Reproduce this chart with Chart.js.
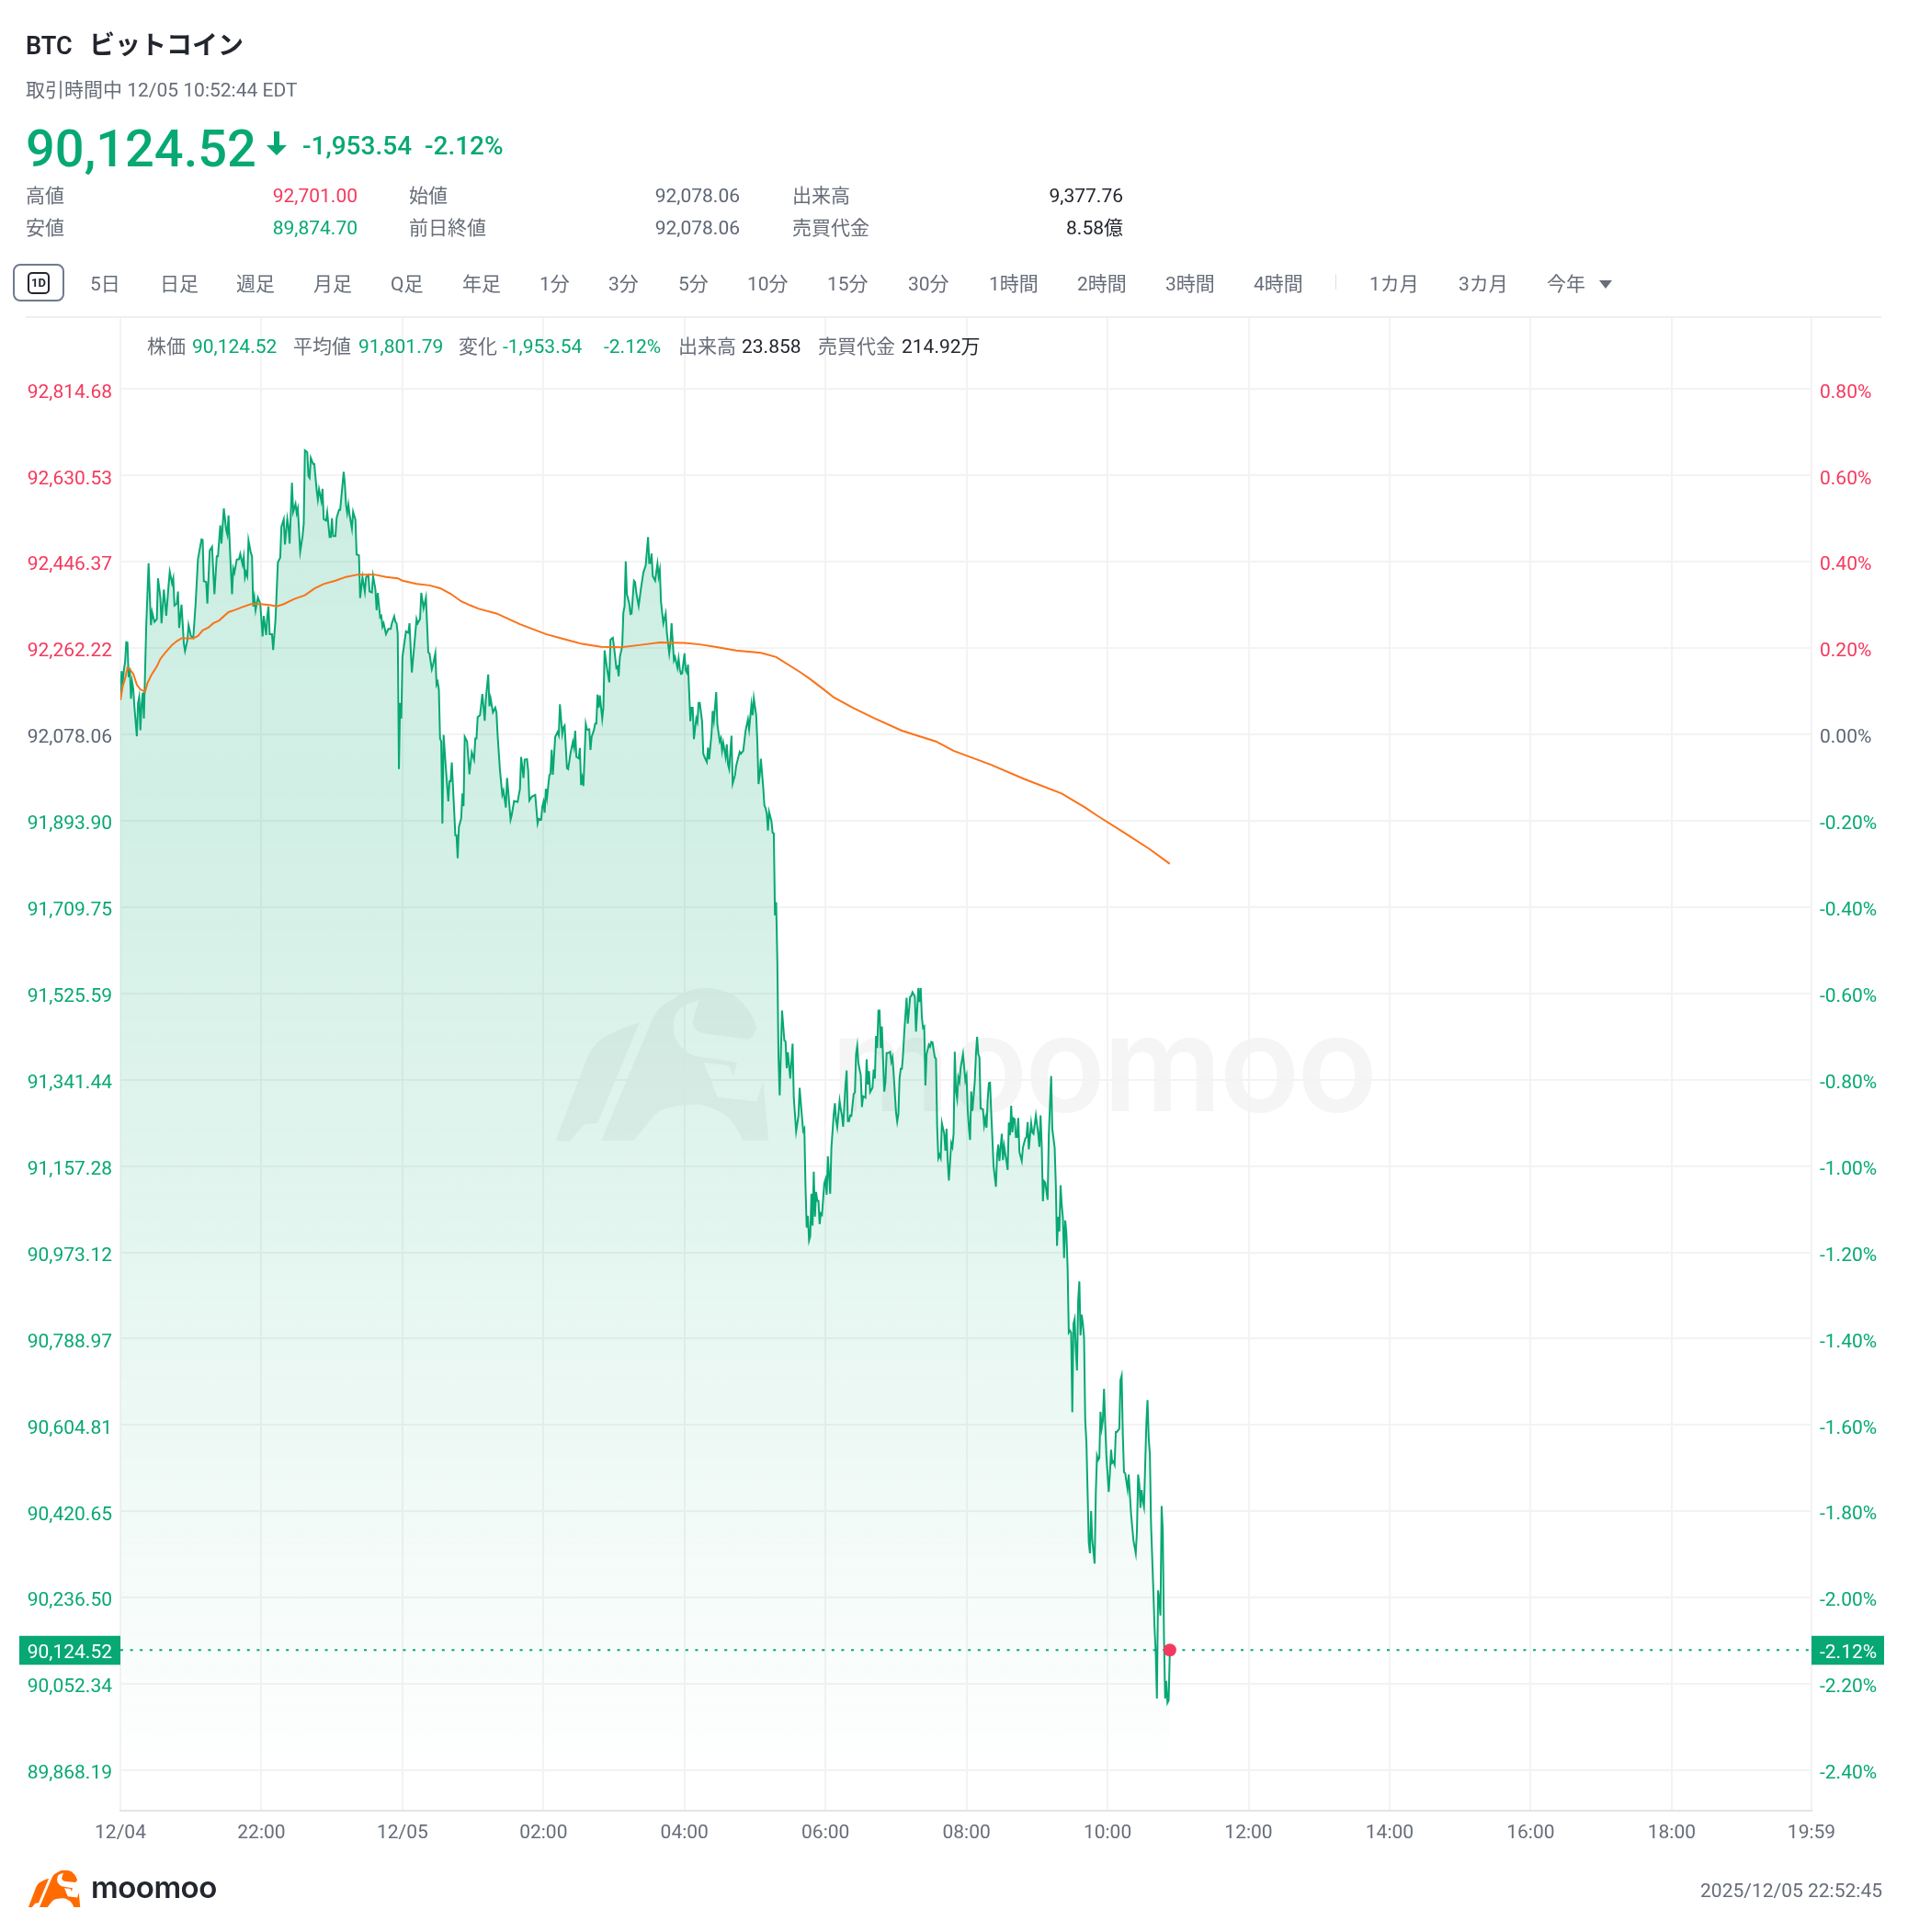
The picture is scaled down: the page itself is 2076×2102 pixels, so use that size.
<!DOCTYPE html>
<html lang="ja">
<head>
<meta charset="utf-8">
<title>BTC ビットコイン</title>
<script src="https://cdn.jsdelivr.net/npm/chart.js@4"></script>
<style>
  html, body { margin: 0; padding: 0; background: #fff; }
  body { position: relative; width: 2076px; height: 2102px; overflow: hidden;
         font-family: Roboto, "Noto Sans CJK JP", sans-serif; font-size: 21px; color: #676d79; }
  canvas { position: absolute; left: 0; top: 0; z-index: 1; }
  .t { position: absolute; z-index: 2; white-space: nowrap; line-height: 1; transform: translateY(-50%); }
  .r { transform: translate(-100%, -50%); }
  .up { color: #f4395e; }
  .down { color: #07a874; }
  .flat { color: #5e6675; }
  .dark { color: #23262e; }
  .wm { position: absolute; z-index: 0; }
</style>
</head>
<body>
<svg width="0" height="0" style="position:absolute">
  <symbol id="bull" viewBox="0 0 236 166">
    <path d="M4 164 L34 85 Q42 60 58 52 Q76 42 94 37 L49 145 L34 147 L19 165 Z"/>
    <path d="M53 164 L106 38 Q114 18 130 12 Q146 0 163 0 Q182 0 196 8 Q214 22 220 42 Q218 52 211 55 L163 49 Q152 46 151 37 L158 13 Q138 18 133 28 Q128 42 133 55 Q140 68 154 73 L199 80 L195 95 L190 83 L163 80 L178 117 L220 122 L227 100 L233 164 L205 164 Q196 142 184 135 Q164 122 145 126 Q120 126 109 138 L88 164 Z"/>
  </symbol>
</svg>

<!-- watermark, sits behind the transparent canvas -->
<svg class="wm" style="left:600px;top:1075px;fill:#f5f5f5" width="240" height="168"><use href="#bull"/></svg>
<div class="wm" style="left:904px;top:1085px;font:600 144px/1 Inter,sans-serif;letter-spacing:-3px;color:#f5f5f5">moomoo</div>

<div class="t dark" style="left:28px;top:50px;font-size:27px;font-weight:600">BTC</div>
<div class="t dark" style="left:97px;top:50px;font-size:28px;font-weight:600">ビットコイン</div>
<div class="t" style="left:28px;top:98px">取引時間中 12/05 10:52:44 EDT</div>

<div class="t down" style="left:28px;top:162px;font-size:56px;font-weight:500">90,124.52</div>
<svg class="t" style="left:289px;top:156px" width="24" height="28" viewBox="0 0 24 28"><path fill="#07a874" d="M9 1h6v15h8L12 27 1 16h8z"/></svg>
<div class="t down" style="left:329px;top:159px;font-size:28px;font-weight:500">-1,953.54</div>
<div class="t down" style="left:462px;top:159px;font-size:28px;font-weight:500">-2.12%</div>

<div class="t" style="left:28px;top:213px">高値</div>
<div class="t r up" style="left:389px;top:213px">92,701.00</div>
<div class="t" style="left:445px;top:213px">始値</div>
<div class="t r flat" style="left:805px;top:213px">92,078.06</div>
<div class="t" style="left:862px;top:213px">出来高</div>
<div class="t r dark" style="left:1222px;top:213px">9,377.76</div>
<div class="t" style="left:28px;top:248px">安値</div>
<div class="t r down" style="left:389px;top:248px">89,874.70</div>
<div class="t" style="left:445px;top:248px">前日終値</div>
<div class="t r flat" style="left:805px;top:248px">92,078.06</div>
<div class="t" style="left:862px;top:248px">売買代金</div>
<div class="t r dark" style="left:1222px;top:248px">8.58億</div>

<!-- period toolbar -->
<div style="position:absolute;z-index:2;left:14px;top:287px;width:52px;height:37px;border:2px solid #6e7a90;border-radius:8px"></div>
<div style="position:absolute;z-index:2;left:30px;top:296px;width:20px;height:20px;border:2px solid #23262e;border-radius:5px;font:700 13px/20px Roboto;text-align:center;color:#23262e">1D</div>
<div class="t" style="left:98px;top:309px">5日</div>
<div class="t" style="left:174px;top:309px">日足</div>
<div class="t" style="left:257px;top:309px">週足</div>
<div class="t" style="left:341px;top:309px">月足</div>
<div class="t" style="left:425px;top:309px">Q足</div>
<div class="t" style="left:503px;top:309px">年足</div>
<div class="t" style="left:587px;top:309px">1分</div>
<div class="t" style="left:662px;top:309px">3分</div>
<div class="t" style="left:738px;top:309px">5分</div>
<div class="t" style="left:813px;top:309px">10分</div>
<div class="t" style="left:900px;top:309px">15分</div>
<div class="t" style="left:988px;top:309px">30分</div>
<div class="t" style="left:1076px;top:309px">1時間</div>
<div class="t" style="left:1172px;top:309px">2時間</div>
<div class="t" style="left:1268px;top:309px">3時間</div>
<div class="t" style="left:1364px;top:309px">4時間</div>
<div style="position:absolute;z-index:2;left:1453px;top:298px;width:1px;height:17px;background:#dfe0e2"></div>
<div class="t" style="left:1490px;top:309px">1カ月</div>
<div class="t" style="left:1587px;top:309px">3カ月</div>
<div class="t" style="left:1683px;top:309px">今年</div>
<svg style="position:absolute;z-index:2;left:1740px;top:305px" width="14" height="9"><path fill="#676d79" d="M0 0h14L7 9z"/></svg>
<div style="position:absolute;z-index:2;left:28px;top:344px;width:2019px;height:2px;background:#eeeff0"></div>

<!-- crosshair info row -->
<div class="t" style="left:160px;top:377px">株価</div>
<div class="t down" style="left:209px;top:377px">90,124.52</div>
<div class="t" style="left:319px;top:377px">平均値</div>
<div class="t down" style="left:390px;top:377px">91,801.79</div>
<div class="t" style="left:499px;top:377px">変化</div>
<div class="t down" style="left:547px;top:377px">-1,953.54</div>
<div class="t down" style="left:657px;top:377px">-2.12%</div>
<div class="t" style="left:738px;top:377px">出来高</div>
<div class="t dark" style="left:807px;top:377px">23.858</div>
<div class="t" style="left:890px;top:377px">売買代金</div>
<div class="t dark" style="left:981px;top:377px">214.92万</div>

<!-- footer -->
<svg class="t" style="left:30px;top:2055px;fill:#ff6b00" width="58" height="41"><use href="#bull"/></svg>
<div class="t dark" style="left:99px;top:2053px;font:600 33px/1 Inter,sans-serif;letter-spacing:-.5px">moomoo</div>
<div class="t r" style="left:2048px;top:2057px">2025/12/05 22:52:45</div>

<canvas id="btcChart" width="2076" height="2102"></canvas>

<script>
// Minutes after 20:00 on 12/04 and the trade price read at that minute
const priceMinutes = [
    0,1,2,3,4,5,6,7,8,9,10,11,12,14,15,
    16,17,18,19,20,22,24,26,27,29,31,32,34,35,37,
    39,41,42,44,45,46,48,49,50,52,54,55,57,58,60,
    62,64,66,69,70,71,73,74,76,78,80,82,83,85,86,
    88,90,91,92,94,95,96,97,99,101,102,104,105,106,107,
    108,109,111,112,113,114,115,116,117,119,121,122,124,125,126,
    127,129,130,132,134,136,137,139,140,142,143,144,146,147,149,
    150,151,153,155,156,157,159,160,161,162,164,165,167,168,169,
    171,172,173,175,176,178,179,180,181,183,184,186,187,190,191,
    192,193,194,195,197,198,200,201,203,204,206,208,209,211,212,
    214,215,217,218,219,221,222,223,224,226,228,230,231,233,234,
    235,236,237,238,239,240,243,245,246,248,250,252,253,255,256,
    258,260,262,263,265,266,268,269,270,271,272,273,274,275,277,
    279,280,281,282,284,285,286,287,288,290,291,292,293,295,297,
    299,301,302,303,304,306,308,310,311,313,314,315,317,319,320,
    321,323,325,326,328,329,330,332,333,335,338,340,341,343,344,
    346,347,348,350,353,355,356,358,359,360,361,362,363,365,366,
    367,368,370,372,373,374,376,377,378,380,381,383,385,386,387,
    388,390,391,392,393,394,396,397,399,400,401,403,404,405,406,
    407,408,410,411,412,414,416,417,419,420,422,423,424,425,427,
    428,429,430,431,433,434,435,437,438,439,441,443,445,447,449,
    450,451,452,453,455,457,458,459,460,461,462,464,465,467,468,
    469,471,472,474,475,476,477,478,480,481,482,483,485,486,487,
    488,490,491,492,493,495,496,497,499,500,501,503,504,505,507,
    508,510,511,512,513,515,516,517,518,520,521,523,524,525,527,
    528,530,532,534,535,537,538,539,541,542,543,544,545,547,548,
    549,550,551,552,554,555,556,557,558,559,560,561,563,565,566,
    567,568,570,572,573,575,577,578,579,581,582,583,584,585,586,
    587,588,589,590,591,592,593,594,595,596,597,599,600,601,602,
    604,605,607,608,609,610,612,613,614,615,617,618,619,620,621,
    622,624,625,626,627,628,630,631,632,634,635,636,637,638,640,
    641,642,643,644,645,646,647,648,649,650,651,652,653,655,656,
    657,658,660,661,662,663,664,665,666,667,669,670,671,672,673,
    674,676,677,679,680,681,682,683,684,685,686,688,689,690,691,
    693,694,695,696,697,698,699,701,702,703,704,705,707,708,709,
    710,711,712,713,714,715,717,719,720,721,722,723,724,725,727,
    728,729,730,731,732,734,735,736,737,738,739,740,741,742,743,
    745,746,747,748,750,751,752,754,755,756,757,758,759,760,761,
    762,763,764,765,767,768,770,771,772,773,775,776,777,779,781,
    782,783,784,785,786,787,789,790,791,792,793,795,796,797,798,
    799,800,801,802,803,804,805,806,807,808,809,810,811,812,813,
    814,815,816,817,818,819,820,821,822,823,824,825,826,827,828,
    829,830,831,832,833,834,835,836,837,838,839,841,842,843,844,
    845,846,847,848,850,851,852,853,854,855,857,858,859,860,862,
    864,865,866,867,868,869,870,871,872,873,874,875,876,877,878,
    879,880,881,882,883,884,885,886,887,888,889,890,891,892,893
];
const prices = [
    92151,92213,92190,92216,92233,92275,92274,92200,92220,92154,92190,92174,92135,92074,92145,
    92158,92087,92141,92167,92112,92311,92443,92311,92339,92318,92324,92411,92370,92315,92387,
    92331,92396,92425,92400,92411,92353,92357,92383,92305,92355,92272,92256,92279,92311,92288,
    92284,92357,92452,92494,92493,92405,92403,92357,92470,92478,92377,92458,92458,92524,92485,
    92560,92514,92504,92545,92429,92377,92432,92423,92451,92452,92463,92440,92457,92413,92424,
    92416,92492,92465,92458,92351,92370,92343,92357,92370,92357,92287,92331,92290,92331,92351,
    92292,92292,92258,92324,92445,92455,92521,92537,92483,92538,92521,92485,92615,92553,92570,
    92550,92560,92468,92501,92527,92684,92680,92629,92625,92668,92655,92655,92599,92579,92601,
    92576,92602,92537,92534,92552,92499,92499,92539,92501,92501,92540,92557,92557,92638,92612,
    92568,92550,92568,92547,92517,92553,92536,92462,92460,92369,92413,92382,92413,92418,92383,
    92381,92416,92387,92343,92380,92328,92331,92308,92315,92292,92303,92303,92315,92330,92318,
    92315,92292,92004,92145,92112,92243,92298,92295,92315,92210,92266,92324,92315,92324,92380,
    92347,92370,92253,92251,92217,92226,92251,92184,92190,92174,92069,92063,91888,92077,92004,
    91935,91978,91978,92018,91916,91863,91863,91814,91880,91899,91952,91925,92073,92063,91993,
    92040,92024,92069,92069,92115,92119,92164,92107,92155,92206,92138,92155,92125,92135,92125,
    92076,92001,91949,91958,91922,91985,91958,91896,91906,91936,91934,91962,92030,91985,92024,
    92025,92001,91937,91945,91949,91888,91898,91896,91924,91934,91911,91962,91942,91991,91994,
    92045,91992,92073,92083,92076,92142,92079,92093,92097,92006,92004,92038,92062,92050,92086,
    92030,92027,92049,91970,91985,91968,92100,92088,92089,92045,92073,92088,92101,92101,92163,
    92135,92161,92111,92135,92257,92220,92189,92280,92284,92266,92220,92223,92202,92243,92266,
    92338,92351,92447,92377,92357,92335,92336,92406,92403,92380,92352,92390,92423,92439,92499,
    92444,92444,92464,92416,92406,92442,92415,92429,92361,92338,92315,92336,92295,92251,92272,
    92315,92236,92243,92220,92240,92217,92207,92208,92251,92215,92210,92227,92106,92135,92135,
    92068,92112,92104,92145,92145,92106,92037,92030,92019,92050,92025,92079,92128,92108,92168,
    92099,92063,92070,92043,92060,92030,92057,92014,92004,92075,91973,91991,92011,92021,92041,
    92037,92043,92086,92110,92089,92142,92119,92155,92119,92063,91972,91991,92026,91965,91926,
    91921,91909,91873,91913,91893,91868,91867,91692,91720,91595,91389,91308,91489,91425,91423,
    91366,91400,91344,91418,91304,91231,91265,91324,91291,91232,91237,91111,91026,91051,90998,
    91007,91098,91030,91145,91049,91102,91083,91083,91033,91056,91053,91121,91129,91096,91178,
    91098,91196,91268,91291,91255,91240,91296,91278,91265,91241,91331,91361,91253,91253,91265,
    91264,91311,91314,91396,91414,91376,91351,91283,91306,91303,91385,91331,91360,91315,91324,
    91363,91344,91435,91409,91489,91489,91409,91455,91383,91316,91337,91398,91398,91401,91380,
    91389,91353,91272,91252,91268,91344,91365,91365,91396,91442,91516,91461,91488,91518,91520,
    91528,91519,91444,91537,91507,91537,91474,91452,91455,91329,91396,91416,91412,91422,91421,
    91389,91386,91242,91174,91181,91174,91249,91226,91190,91237,91167,91126,91206,91198,91226,
    91401,91318,91301,91346,91337,91367,91396,91340,91350,91278,91239,91213,91316,91275,91337,
    91396,91433,91396,91389,91280,91278,91244,91259,91239,91298,91334,91335,91272,91216,91157,
    91113,91180,91203,91168,91226,91170,91200,91167,91149,91250,91223,91286,91229,91259,91257,
    91219,91219,91260,91187,91168,91197,91216,91219,91251,91193,91249,91229,91226,91265,91226,
    91198,91265,91200,91082,91125,91122,91085,91223,91288,91349,91236,91196,91115,90987,91049,
    91018,91116,91075,91046,90961,91041,91013,90941,90802,90806,90802,90632,90821,90831,90765,
    90721,90870,90911,90796,90840,90821,90791,90614,90569,90464,90355,90331,90421,90359,90333,
    90309,90460,90539,90530,90534,90633,90598,90614,90682,90607,90539,90462,90502,90552,90524,
    90527,90520,90590,90590,90597,90701,90710,90584,90504,90502,90468,90499,90457,90415,90359,
    90331,90378,90499,90479,90428,90466,90443,90430,90517,90607,90658,90577,90543,90393,90321,
    90250,90171,90119,90021,90252,90231,90198,90432,90378,90156,90021,90059,90012,90017,90124.52
];

// Running average line
const avgMinutes = [
    0,2,4,6,8,11,14,17,21,23,26,31,34,38,44,48,52,62,66,70,
    75,79,84,92,98,104,111,119,127,133,139,148,157,165,173,183,192,202,216,226,
    236,240,252,263,272,281,290,298,305,320,340,362,378,393,409,426,443,459,480,493,
    506,524,545,558,579,587,600,607,623,641,665,694,709,741,769,801,821,831,855,876,893
];
const avgPrices = [
    92151,92181,92197,92220,92217,92207,92184,92174,92169,92187,92203,92223,92239,92252,92269,92277,92283,92283,92288,92300,
    92306,92315,92321,92339,92344,92350,92356,92356,92354,92351,92356,92367,92375,92389,92399,92406,92414,92419,92419,92414,
    92411,92406,92399,92396,92390,92378,92362,92353,92346,92336,92313,92292,92281,92271,92265,92264,92269,92274,92273,92270,
    92265,92257,92252,92243,92210,92196,92171,92157,92135,92113,92086,92063,92043,92013,91983,91952,91922,91905,91867,91833,91801.79
];

// Axis ticks
const priceTicks = [92814.68, 92630.53, 92446.37, 92262.22, 92078.06, 91893.90, 91709.75, 91525.59, 91341.44, 91157.28, 90973.12, 90788.97, 90604.81, 90420.65, 90236.50, 90052.34, 89868.19];
const percentTicks = [0.80, 0.60, 0.40, 0.20, 0.00, -0.20, -0.40, -0.60, -0.80, -1.00, -1.20, -1.40, -1.60, -1.80, -2.00, -2.20, -2.40];
const timeTicks = [0, 120, 240, 360, 480, 600, 720, 840, 960, 1080, 1200, 1320, 1439];
const timeLabels = ['12/04', '22:00', '12/05', '02:00', '04:00', '06:00', '08:00', '10:00', '12:00', '14:00', '16:00', '18:00', '19:59'];

const prevClose = 92078.06;
const lastMinute = 893;
const lastPrice = 90124.52;
const lastPercent = -2.12;
const sessionEnd = 1439;

// Visible price range of the plot, the right axis is the same range in percent
const priceMin = 89781.9;
const priceMax = 92968.3;
const toPercent = p => (p / prevClose - 1) * 100;

const colors = { up: '#f4395e', down: '#07a874', flat: '#5e6675', avg: '#fb7218', grid: '#f3f3f4', axis: '#e3e4e6', text: '#676d79' };
const tickColor = v => v > 0 ? colors.up : (v < 0 ? colors.down : colors.flat);
const tickFont = { family: 'Roboto', size: 21 };
const money = v => v.toLocaleString('en-US', { minimumFractionDigits: 2, maximumFractionDigits: 2 });

const priceTags = {
    id: 'priceTags',
    afterDraw(chart) {
        const c = chart.ctx;
        const y = chart.scales.y.getPixelForValue(lastPrice);
        c.save();
        c.fillStyle = colors.down;
        c.fillRect(21, y - 15.5, chart.chartArea.left - 21, 31.5);
        c.fillRect(chart.chartArea.right, y - 15.5, 79, 31.5);
        c.fillStyle = '#fff';
        c.font = '21px Roboto';
        c.textBaseline = 'middle';
        c.textAlign = 'right';
        c.fillText(money(lastPrice), chart.chartArea.left - 9, y + 3);
        c.textAlign = 'left';
        c.fillText(lastPercent.toFixed(2) + '%', chart.chartArea.right + 9, y + 3);
        c.restore();
    }
};

new Chart(document.getElementById('btcChart').getContext('2d'), {
    type: 'line',
    data: {
        datasets: [
            {
                label: '平均値',
                data: avgMinutes.map((m, i) => ({ x: m, y: avgPrices[i] })),
                borderColor: colors.avg,
                borderWidth: 2,
                pointRadius: 0,
                fill: false,
                order: 1
            },
            {
                label: '株価',
                data: priceMinutes.map((m, i) => ({ x: m, y: prices[i] })),
                borderColor: colors.down,
                borderWidth: 2,
                pointRadius: 0,
                fill: 'start',
                backgroundColor(ctx) {
                    const g = ctx.chart.ctx.createLinearGradient(0, 480, 0, 1940);
                    g.addColorStop(0, 'rgba(7, 168, 116, 0.205)');
                    g.addColorStop(0.29, 'rgba(7, 168, 116, 0.18)');
                    g.addColorStop(0.59, 'rgba(7, 168, 116, 0.11)');
                    g.addColorStop(1, 'rgba(7, 168, 116, 0)');
                    return g;
                },
                order: 2
            },
            {
                label: '現在値',
                data: [{ x: 0, y: lastPrice }, { x: sessionEnd, y: lastPrice }],
                borderColor: colors.down,
                borderWidth: 2,
                borderDash: [3, 7.6],
                pointRadius: 0,
                fill: false,
                order: 3
            },
            {
                label: '最新',
                data: [{ x: lastMinute, y: lastPrice }],
                pointRadius: 7,
                pointBackgroundColor: colors.up,
                pointBorderWidth: 0,
                showLine: false,
                order: 0
            }
        ]
    },
    options: {
        responsive: false,
        devicePixelRatio: 1,
        animation: false,
        events: [],
        layout: { padding: { top: 345 } },
        plugins: { legend: { display: false }, tooltip: { enabled: false } },
        scales: {
            x: {
                type: 'linear',
                min: 0,
                max: sessionEnd,
                afterBuildTicks: axis => { axis.ticks = timeTicks.map(v => ({ value: v })); },
                afterFit: axis => { axis.height = 132; },
                grid: { color: colors.grid, lineWidth: 2, drawTicks: false },
                border: { color: colors.axis, width: 2 },
                ticks: {
                    color: colors.text,
                    font: tickFont,
                    padding: 12,
                    maxRotation: 0,
                    autoSkip: false,
                    callback: (value, index) => timeLabels[index]
                }
            },
            y: {
                position: 'left',
                min: priceMin,
                max: priceMax,
                afterBuildTicks: axis => { axis.ticks = priceTicks.map(v => ({ value: v })); },
                afterFit: axis => { axis.width = 131; },
                grid: { color: colors.grid, lineWidth: 2, drawTicks: false },
                border: { display: false },
                ticks: {
                    color: ctx => tickColor(ctx.tick.value - prevClose),
                    font: tickFont,
                    padding: 9,
                    labelOffset: 4,
                    autoSkip: false,
                    callback: value => money(value)
                }
            },
            yPercent: {
                position: 'right',
                min: toPercent(priceMin),
                max: toPercent(priceMax),
                afterBuildTicks: axis => { axis.ticks = percentTicks.map(v => ({ value: v })); },
                afterFit: axis => { axis.width = 105; },
                grid: { display: false, drawTicks: false },
                border: { display: false },
                ticks: {
                    color: ctx => tickColor(ctx.tick.value),
                    font: tickFont,
                    padding: 9,
                    labelOffset: 4,
                    autoSkip: false,
                    callback: value => value.toFixed(2) + '%'
                }
            }
        }
    },
    plugins: [priceTags]
});
</script>
</body>
</html>
